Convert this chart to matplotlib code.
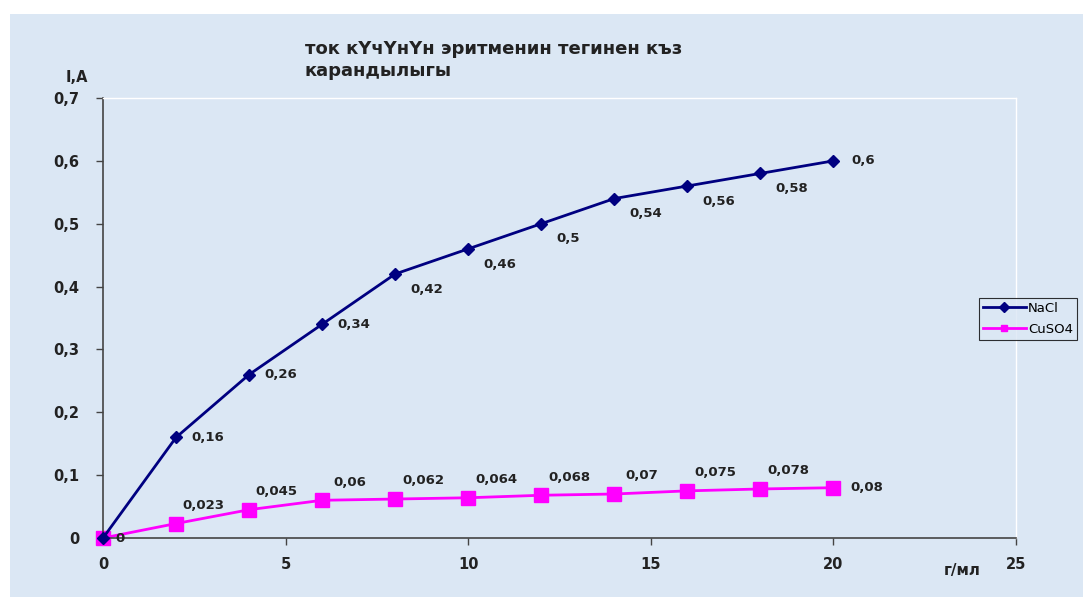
import matplotlib
matplotlib.use('Agg')
import matplotlib.pyplot as plt
from matplotlib.patches import Rectangle

# data
conc = [0, 2, 4, 6, 8, 10, 12, 14, 16, 18, 20]
nacl = [0, 0.16, 0.26, 0.34, 0.42, 0.46, 0.5, 0.54, 0.56, 0.58, 0.6]
cuso4 = [0, 0.023, 0.045, 0.06, 0.062, 0.064, 0.068, 0.07, 0.075, 0.078, 0.08]
names = ['NaCl', 'CuSO4']
title = 'ток кҮчҮнҮн эритменин тегинен къз\nкарандылыгы'

def fmt(v):
    s = ('%g' % v).replace('.', ',')
    return s

fig = plt.figure(figsize=(10.83, 5.97), dpi=100)
fig.patch.set_facecolor('white')
# light blue backdrop
fig.patches.append(Rectangle((10/1083, 0), 1, 1 - 14/597, transform=fig.transFigure,
                             facecolor='#dbe7f4', edgecolor='none', zorder=-5))

ax = fig.add_axes([103/1083, 1 - 538/597, (1016-103)/1083, (538-98)/597])
ax.set_facecolor('none')
ax.set_zorder(2)

ax.plot(conc, nacl, '-D', color='#000080', lw=2, ms=6, label=names[0], zorder=3, clip_on=False)
ax.plot(conc, cuso4, '-s', color='#ff00ff', lw=2, ms=10, label=names[1], zorder=2, clip_on=False)

ax.set_xlim(0, 25)
ax.set_ylim(0, 0.7)
ax.set_xticks([0, 5, 10, 15, 20, 25])
ax.set_yticks([0, 0.1, 0.2, 0.3, 0.4, 0.5, 0.6, 0.7])
ax.set_xticklabels([fmt(t) for t in ax.get_xticks()])
ax.set_yticklabels([fmt(round(t, 1)) for t in ax.get_yticks()])
for lab in ax.get_xticklabels() + ax.get_yticklabels():
    lab.set_fontweight('bold')
    lab.set_fontsize(10.5)
    lab.set_color('#222222')
ax.tick_params(axis='both', direction='out', length=5, width=1, color='#444444')
ax.tick_params(axis='x', pad=9)
ax.tick_params(axis='y', pad=12)

for s in ['left', 'bottom']:
    ax.spines[s].set_color('#444444')
    ax.spines[s].set_linewidth(1.2)
for s in ['top', 'right']:
    ax.spines[s].set_color('white')
    ax.spines[s].set_linewidth(1)

# value labels
lab_kw = dict(textcoords='offset points', fontsize=9.5, fontweight='bold', va='center',
              color='#222222')
for i, (x, y) in enumerate(zip(conc, nacl)):
    if i == 0:
        continue
    dy = -11 if 4 <= i <= 9 else 0
    dx = 11 if i < 10 else 13
    ax.annotate(fmt(y), (x, y), xytext=(dx, dy), ha='left', **lab_kw)
for i, (x, y) in enumerate(zip(conc, cuso4)):
    if i == 0:
        ax.annotate(fmt(y), (x, y), xytext=(9, 0), ha='left', **lab_kw)
    elif i == len(conc) - 1:
        ax.annotate(fmt(y), (x, y), xytext=(12, 0), ha='left', **lab_kw)
    else:
        ax.annotate(fmt(y), (x, y), xytext=(20, 13), ha='center', **lab_kw)

fig.text(305/1083, 1 - 60/597, title, fontsize=13, fontweight='bold', ha='left',
         va='center', color='#222222', linespacing=1.25)
fig.text(77/1083, 1 - 78/597, 'I,A', fontsize=10.5, fontweight='bold', ha='center',
         va='center', color='#222222')
fig.text(962/1083, 1 - 570/597, 'г/мл', fontsize=11, fontweight='bold', ha='center',
         va='center', color='#222222')

leg = fig.legend(loc='upper left', bbox_to_anchor=(979/1083, 1 - 298/597), fontsize=9.5,
                 frameon=True, fancybox=False, handlelength=3.25, handletextpad=0.15,
                 borderpad=0.3, labelspacing=0.6, borderaxespad=0)
leg.get_frame().set_edgecolor('black')
leg.get_frame().set_linewidth(0.8)
leg.get_frame().set_facecolor('#dbe7f4')
leg.set_zorder(3)
for h in leg.legend_handles:
    h.set_markersize(5)

fig.savefig('out.png', dpi=100)
